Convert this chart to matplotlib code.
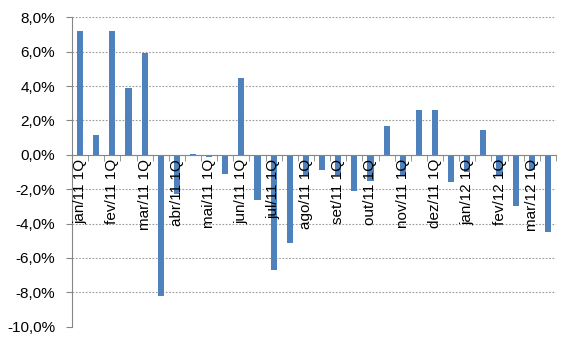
import numpy as np
import matplotlib
matplotlib.use("Agg")
import matplotlib.pyplot as plt
from matplotlib.ticker import FuncFormatter, FixedLocator

# labels every other bar (1Q of each month), 2Q bars unlabeled
meses = ["jan/11", "fev/11", "mar/11", "abr/11", "mai/11", "jun/11", "jul/11", "ago/11",
         "set/11", "out/11", "nov/11", "dez/11", "jan/12", "fev/12", "mar/12"]
rotulos = [m + " 1Q" for m in meses]

# variacao (%) por quinzena
valores = [7.2, 1.15, 7.2, 3.9, 5.9, -8.2,
           -2.3, 0.05, -0.1, -1.1, 4.45, -2.6,
           -6.7, -5.15, -1.2, -0.9, -1.15, -2.1,
           -1.5, 1.7, -1.25, 2.6, 2.6, -1.6,
           -1.0, 1.45, -1.15, -3.0, -0.9, -4.5]

azul = "#4F81BD"
cinza = "#868686"

plt.rcParams['font.family'] = ['Liberation Sans', 'DejaVu Sans']

fig = plt.figure(figsize=(5.7, 3.48), dpi=100)
ax = fig.add_axes([72/570, 1-326.7/348, (556-72)/570, (326.7-17.3)/348])

x = np.arange(len(valores))
ax.bar(x, valores, width=0.38, color=azul, zorder=2)

yt = np.arange(-10, 9, 2)
for y in yt[1:]:
    ax.axhline(y, linestyle=(0, (1.5, 1.5)), color="#9a9a9a", linewidth=0.8, zorder=1)

ax.set_xlim(-0.5, len(valores)-0.5)
ax.set_ylim(-10, 8)
ax.set_yticks(yt)
ax.yaxis.set_major_formatter(FuncFormatter(lambda v, p: ("%.1f%%" % v).replace(".", ",")))
ax.set_axisbelow(False)

ax.set_xticks(x[::2])
ax.set_xticklabels(rotulos)
ax.xaxis.set_minor_locator(FixedLocator(np.arange(-0.5, len(valores), 1)))
ax.tick_params(axis="x", which="major", length=0, pad=3, labelsize=11, labelrotation=90)
ax.tick_params(axis="x", which="minor", length=4, color=cinza, direction="out")
ax.tick_params(axis="y", length=4, color=cinza, labelsize=11, pad=8)

ax.spines["bottom"].set_position(("data", 0))
ax.spines["bottom"].set_color(cinza)
ax.spines["left"].set_color(cinza)
ax.spines["top"].set_visible(False)
ax.spines["right"].set_visible(False)

fig.savefig("out.png", dpi=100)
